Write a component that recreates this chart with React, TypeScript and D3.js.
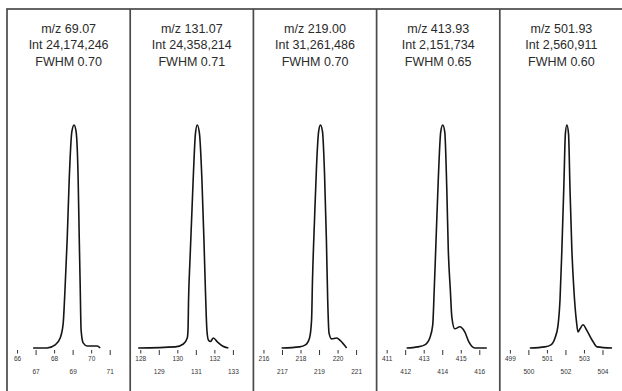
import * as React from 'react';
import * as d3 from 'd3';

// centre integer m/z of each panel and the header texts
const panelCenters = [69, 131, 219, 414, 502];
const peakMz = ['69.07', '131.07', '219.00', '413.93', '501.93'];
const peakInt = ['24,174,246', '24,358,214', '31,261,486', '2,151,734', '2,560,911'];
const peakFwhm = ['0.70', '0.71', '0.70', '0.65', '0.60'];

const tickValues = [
  [66, 67, 68, 69, 70, 71],
  [128, 129, 130, 131, 132, 133],
  [216, 217, 218, 219, 220, 221],
  [411, 412, 413, 414, 415, 416],
  [499, 500, 501, 502, 503, 504],
];

// profile points: [m/z, relative intensity %]
const profile1 = [
  [66.84, 0], [67.59, 0], [68.03, 1.4], [68.3, 4.5], [68.46, 10.8], [68.57, 28],
  [68.68, 49], [68.79, 76], [68.93, 97], [69.05, 100], [69.16, 97], [69.27, 76],
  [69.33, 49], [69.38, 28], [69.43, 8], [69.54, 2.3], [69.76, 0.9], [70.3, 0.9], [70.46, 0],
];
const profile2 = [
  [127.86, 0], [129.86, 0.5], [130.3, 1.8], [130.51, 4.5], [130.55, 8], [130.58, 21.6],
  [130.66, 40], [130.83, 75.7], [130.95, 96], [131.05, 100], [131.17, 96], [131.3, 75.7],
  [131.41, 48.6], [131.49, 26], [131.57, 8.1], [131.65, 3.6], [131.76, 2.9], [131.92, 4.5],
  [132.14, 2.7], [132.41, 0.9], [132.73, 0],
];
const profile3 = [
  [216.95, 0], [217.92, 0.5], [218.24, 1.4], [218.46, 4.5], [218.57, 12.6], [218.62, 30.6],
  [218.73, 57.7], [218.84, 82], [218.95, 97], [219.05, 100], [219.16, 97], [219.27, 78],
  [219.37, 48.6], [219.44, 21.6], [219.51, 6.8], [219.65, 4.1], [219.92, 4.5], [220.14, 3.2],
  [220.46, 0],
];
const profile4 = [
  [412.05, 0], [412.65, 0.5], [413.03, 1.4], [413.3, 4.5], [413.46, 10.4], [413.54, 26],
  [413.62, 44], [413.76, 75.7], [413.89, 96.8], [414.0, 100], [414.11, 96.8], [414.22, 71],
  [414.3, 44], [414.41, 26], [414.49, 14], [414.65, 8.6], [414.92, 9.5], [415.19, 7.2],
  [415.41, 2.7], [415.73, 0], [416.38, 0],
];
const profile5 = [
  [500.05, 0], [500.86, 0.5], [501.19, 1.4], [501.41, 4.5], [501.57, 9.9], [501.68, 21.6],
  [501.78, 44], [501.89, 73.4], [501.97, 96], [502.05, 100], [502.14, 96], [502.22, 71],
  [502.32, 44], [502.43, 26], [502.57, 11.7], [502.65, 7.2], [502.76, 8.6], [502.92, 10.4],
  [503.14, 7.7], [503.41, 3.6], [503.68, 0.5], [504.49, 0],
];
const profiles = [profile1, profile2, profile3, profile4, profile5];

const App = () => {
  const ref = React.useRef(null);

  React.useEffect(() => {
    const width = 622;
    const height = 391;
    const left = 7;
    const top = 9;
    const right = 623;
    const panelW = (right - left) / panelCenters.length;
    const font = '"Liberation Sans", Arial, sans-serif';

    const svg = d3.select(ref.current);
    svg.selectAll('*').remove();
    svg.attr('width', width).attr('height', height);

    svg.append('rect')
      .attr('width', width).attr('height', height)
      .attr('fill', '#fff');

    const y = d3.scaleLinear().domain([0, 100]).range([348, 125]);

    panelCenters.forEach((c, i) => {
      const x0 = left + i * panelW;
      const x = d3.scaleLinear()
        .domain([c - 3.57, c + 3.08])
        .range([x0, x0 + panelW]);
      const g = svg.append('g');
      const cx = x0 + panelW / 2;

      const header = [`m/z ${peakMz[i]}`, `Int ${peakInt[i]}`, `FWHM ${peakFwhm[i]}`];
      g.selectAll('text.head')
        .data(header)
        .enter().append('text')
        .attr('class', 'head')
        .attr('x', cx)
        .attr('y', (d, k) => 33 + k * 16.3)
        .attr('text-anchor', 'middle')
        .style('font-family', font)
        .style('font-size', '12.5px')
        .style('fill', '#2b2b2b')
        .text(d => d);

      const line = d3.line()
        .x(d => x(d[0]))
        .y(d => y(d[1]))
        .curve(d3.curveMonotoneX);

      g.append('path')
        .datum(profiles[i])
        .attr('d', line)
        .attr('fill', 'none')
        .attr('stroke', '#151515')
        .attr('stroke-width', 1.6);

      const ticks = g.selectAll('g.tick')
        .data(tickValues[i])
        .enter().append('g')
        .attr('class', 'tick')
        .attr('transform', d => `translate(${x(d)},0)`);

      ticks.append('line')
        .attr('y1', 350)
        .attr('y2', (d, k) => (k % 2 === 0 ? 353.5 : 355))
        .attr('stroke', '#333')
        .attr('stroke-width', 1);

      ticks.append('text')
        .attr('y', (d, k) => (k % 2 === 0 ? 361 : 374))
        .attr('text-anchor', 'middle')
        .style('font-family', font)
        .style('font-size', '6.5px')
        .style('fill', '#333')
        .text(d => d);
    });

    // frame and panel dividers
    svg.append('rect')
      .attr('x', left).attr('y', top)
      .attr('width', right - left).attr('height', height)
      .attr('fill', 'none')
      .attr('stroke', '#4a4a4a')
      .attr('stroke-width', 1.7);

    svg.selectAll('line.divider')
      .data(d3.range(1, panelCenters.length))
      .enter().append('line')
      .attr('class', 'divider')
      .attr('x1', k => left + k * panelW)
      .attr('x2', k => left + k * panelW)
      .attr('y1', top)
      .attr('y2', height)
      .attr('stroke', '#4a4a4a')
      .attr('stroke-width', 1.7);
  }, []);

  return (
    <svg ref={ref} style={{ position: 'absolute', left: 0, top: 0, display: 'block' }}></svg>
  );
};

export default App;
